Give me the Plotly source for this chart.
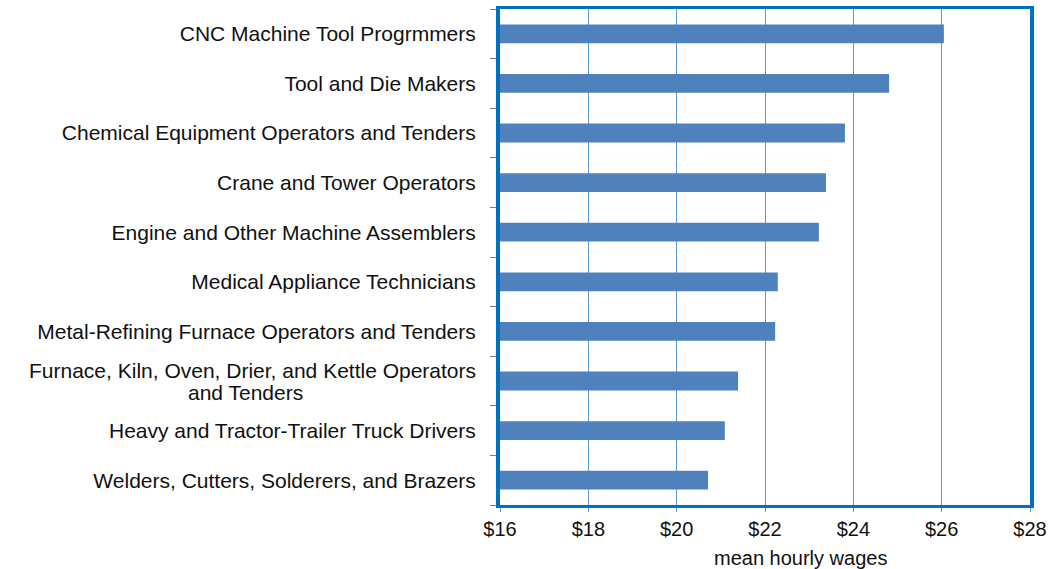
import plotly.graph_objects as go

categories = [
    "Welders, Cutters, Solderers, and Brazers",
    "Heavy and Tractor-Trailer Truck Drivers",
    "Furnace, Kiln, Oven, Drier, and Kettle Operators and Tenders",
    "Metal-Refining Furnace Operators and Tenders",
    "Medical Appliance Technicians",
    "Engine and Other Machine Assemblers",
    "Crane and Tower Operators",
    "Chemical Equipment Operators and Tenders",
    "Tool and Die Makers",
    "CNC Machine Tool Progrmmers",
]
wages = [20.71, 21.09, 21.39, 22.23, 22.29, 23.22, 23.38, 23.81, 24.81, 26.05]
tick_vals = [16, 18, 20, 22, 24, 26, 28]
tick_text = ["$16", "$18", "$20", "$22", "$24", "$26", "$28"]

WRAPPED = "Furnace, Kiln, Oven, Drier, and Kettle Operators and Tenders"
ytext = ["" if c == WRAPPED else c for c in categories]

FS = 21
W, H = 1052, 569
ML, MR, MT, MB = 500, 22, 9, 64
PW, PH = W - ML - MR, H - MT - MB

fig = go.Figure(go.Bar(
    x=[w - 16 for w in wages], base=16, y=categories, orientation="h",
    marker=dict(color="#4F81BD", line=dict(width=0)),
))

fig.update_layout(
    width=W, height=H,
    margin=dict(l=ML, r=MR, t=MT, b=MB, autoexpand=False),
    plot_bgcolor="white", paper_bgcolor="white",
    bargap=0.62,
    showlegend=False,
    font=dict(family="Liberation Sans, Arial, sans-serif", color="#111111", size=FS),
    xaxis=dict(
        range=[16, 28], tickvals=tick_vals, ticktext=tick_text,
        showgrid=True, gridcolor="#5B9BD5", gridwidth=1,
        showline=True, linecolor="#0070C0", linewidth=3, mirror=True,
        ticks="outside", ticklen=4, tickcolor="#5B9BD5",
        tickfont=dict(size=20), zeroline=False, ticklabelstandoff=0,
        automargin=False, fixedrange=True,
    ),
    yaxis=dict(
        type="category", categoryorder="array", categoryarray=categories,
        tickmode="array", tickvals=categories, ticktext=ytext,
        showline=True, linecolor="#0070C0", linewidth=4, mirror=True,
        ticks="outside", ticklen=6, tickcolor="#7F7F7F", tickson="boundaries",
        tickfont=dict(size=FS), ticklabelstandoff=16,
        automargin=False, fixedrange=True,
    ),
    annotations=[
        dict(text="Furnace, Kiln, Oven, Drier, and Kettle Operators",
             xref="paper", x=(478 - 500) / PW, xanchor="right",
             yref="y", y=WRAPPED, yanchor="middle", yshift=11,
             showarrow=False, font=dict(size=FS)),
        dict(text="and Tenders",
             xref="paper", x=(245 - 500) / PW, xanchor="center",
             yref="y", y=WRAPPED, yanchor="middle", yshift=-11,
             showarrow=False, font=dict(size=FS)),
        dict(text="mean hourly wages", xref="paper", x=(800 - 500) / PW,
             yref="paper", y=-(570 - 505) / PH,
             xanchor="center", yanchor="bottom", showarrow=False,
             borderpad=0, font=dict(size=20)),
    ],
)

fig.write_html("out.html", config={"displayModeBar": False},
               post_script="document.body.style.margin='0';")
